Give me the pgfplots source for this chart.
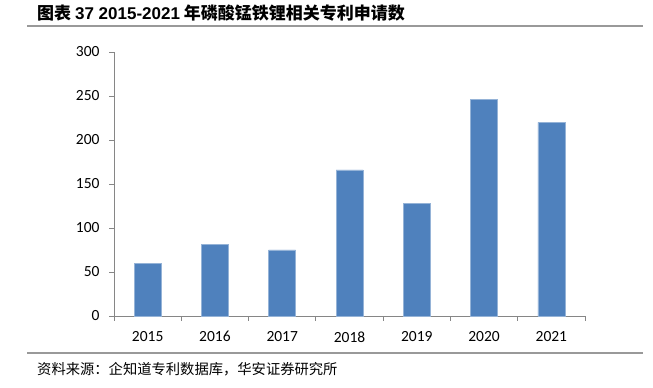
\documentclass[border=0pt]{standalone}
\usepackage{fontspec}
\usepackage{pgfplots}
\pgfplotsset{compat=1.18}
\setmainfont{Carlito}
\newfontfamily\cjk{Noto Sans CJK SC}
\newfontfamily\lsans{Liberation Sans}
\definecolor{barblue}{RGB}{79,129,189}
\definecolor{axgray}{RGB}{134,134,134}
\definecolor{rulegray}{RGB}{153,153,153}
\begin{document}
\begin{tikzpicture}[x=1pt,y=1pt]
\path[use as bounding box] (0,0) rectangle (653,388);
\node[anchor=west,inner sep=0] at (37,374.5) {\fontsize{17}{19}\selectfont\cjk\bfseries 图表 {\lsans 37 2015-2021} 年磷酸锰铁锂相关专利申请数};
\draw[rulegray,line width=2pt] (27,362.3) -- (643,362.3);
\draw[rulegray,line width=1.2pt] (27,35) -- (643,35);
\node[anchor=west,inner sep=0] at (37,19) {\fontsize{14.3}{16}\selectfont\cjk 资料来源：企知道专利数据库，华安证券研究所};
\begin{axis}[
  at={(114pt,72pt)}, anchor=origin,
  scale only axis, width=471pt, height=264pt,
  xmin=0, xmax=7, ymin=0, ymax=300,
  axis x line*=bottom, axis y line*=left,
  axis line style={axgray, line width=0.8pt, -},
  xtick={0,1,2,3,4,5,6,7},
  xticklabels={2015,2016,2017,2018,2019,2020,2021},
  x tick label as interval,
  x tick label style={yshift=-7pt},
  y tick label style={xshift=-6pt},
  ytick={0,50,100,150,200,250,300},
  major tick length=5pt,
  tick style={axgray, line width=0.8pt},
  tick align=outside,
  tick label style={font=\fontsize{15.5}{17}\selectfont, black},
  /pgf/number format/assume math mode=true,
  ybar, bar width=27pt,
  clip=false,
]
\addplot[fill=barblue, draw=barblue!60!white, line width=0.6pt] coordinates {
 (0.5,60) (1.5,81) (2.5,75) (3.5,166) (4.5,128) (5.5,246) (6.5,220)
};
\end{axis}
\end{tikzpicture}
\end{document}
